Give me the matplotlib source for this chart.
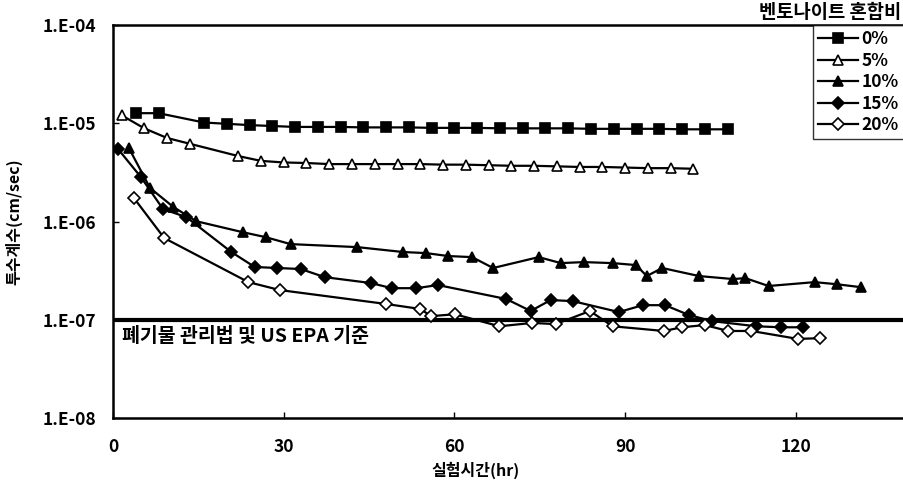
import matplotlib
matplotlib.use('Agg')
import matplotlib.pyplot as plt
from matplotlib.ticker import FixedLocator, NullLocator

plt.rcParams['font.family'] = ['Noto Sans CJK KR', 'DejaVu Sans']

# 벤토나이트 혼합비별 투수계수 (cm/sec) vs 실험시간 (hr)
hr_0 = [4, 8, 16, 20, 24, 28, 32, 36, 40, 44, 48, 52, 56, 60, 64, 68, 72,
        76, 80, 84, 88, 92, 96, 100, 104, 108]
k_0 = [1.27e-5, 1.27e-5, 1.02e-5, 9.9e-6, 9.6e-6, 9.4e-6, 9.2e-6, 9.2e-6,
       9.2e-6, 9.1e-6, 9.1e-6, 9.1e-6, 9.0e-6, 9.0e-6, 9.0e-6, 8.9e-6,
       8.9e-6, 8.9e-6, 8.9e-6, 8.8e-6, 8.8e-6, 8.8e-6, 8.8e-6, 8.7e-6,
       8.7e-6, 8.7e-6]

hr_5 = [1.5, 5.5, 9.5, 13.5, 22, 26, 30, 34, 38, 42, 46, 50, 54, 58, 62,
        66, 70, 74, 78, 82, 86, 90, 94, 98, 102]
k_5 = [1.21e-5, 8.9e-6, 7.1e-6, 6.2e-6, 4.65e-6, 4.15e-6, 4.0e-6, 3.95e-6,
       3.85e-6, 3.85e-6, 3.85e-6, 3.85e-6, 3.85e-6, 3.8e-6, 3.8e-6, 3.75e-6,
       3.7e-6, 3.7e-6, 3.65e-6, 3.6e-6, 3.6e-6, 3.55e-6, 3.5e-6, 3.5e-6,
       3.45e-6]

hr_10 = [2.8, 6.5, 10.6, 14.6, 22.8, 26.8, 31.2, 42.9, 51, 55, 58.9, 63.1,
         66.8, 74.8, 78.7, 82.7, 87.8, 91.9, 93.8, 96.5, 103, 109, 111.1,
         115.2, 123.3, 127.3, 131.4]
k_10 = [5.6e-6, 2.2e-6, 1.41e-6, 1.01e-6, 7.8e-7, 6.95e-7, 5.9e-7, 5.5e-7,
        4.9e-7, 4.78e-7, 4.46e-7, 4.35e-7, 3.37e-7, 4.35e-7, 3.78e-7, 3.87e-7,
        3.78e-7, 3.61e-7, 2.79e-7, 3.37e-7, 2.79e-7, 2.6e-7, 2.66e-7, 2.21e-7,
        2.42e-7, 2.3e-7, 2.15e-7]

hr_15 = [0.9, 4.9, 8.8, 12.9, 20.8, 24.9, 28.9, 33, 37.2, 45.3, 49, 53.3,
         57.1, 69.1, 73.4, 76.9, 80.8, 88.9, 93.1, 97, 101.2, 105.3, 113,
         117.3, 121.3]
k_15 = [5.47e-6, 2.84e-6, 1.34e-6, 1.11e-6, 4.9e-7, 3.45e-7, 3.37e-7, 3.29e-7,
        2.72e-7, 2.37e-7, 2.1e-7, 2.1e-7, 2.26e-7, 1.63e-7, 1.23e-7, 1.59e-7,
        1.55e-7, 1.2e-7, 1.41e-7, 1.41e-7, 1.12e-7, 9.7e-8, 8.6e-8, 8.4e-8,
        8.4e-8]

hr_20 = [3.7, 9, 23.8, 29.3, 48, 54, 55.9, 60.1, 67.9, 73.7, 77.8, 83.8,
         87.8, 96.8, 100, 104, 108.1, 112.2, 120.3, 124.3]
k_20 = [1.73e-6, 6.8e-7, 2.42e-7, 2.01e-7, 1.45e-7, 1.29e-7, 1.09e-7, 1.14e-7,
        8.6e-8, 9.3e-8, 9.05e-8, 1.23e-7, 8.6e-8, 7.7e-8, 8.4e-8, 8.85e-8,
        7.7e-8, 7.7e-8, 6.4e-8, 6.5e-8]

labels = ['0%', '5%', '10%', '15%', '20%']
y_ticks = [1e-8, 1e-7, 1e-6, 1e-5, 1e-4]
y_ticklabels = ['1.E-08', '1.E-07', '1.E-06', '1.E-05', '1.E-04']
x_ticks = [0, 30, 60, 90, 120]
limit = 1e-7

fig = plt.figure(figsize=(9.04, 4.93), dpi=100)
ax = fig.add_axes([0.125, 0.152, 0.875, 0.797])

ax.axhline(limit, color='black', lw=3, zorder=1)

series = [
    (hr_0, k_0, 's', 'black'),
    (hr_5, k_5, '^', 'white'),
    (hr_10, k_10, '^', 'black'),
    (hr_15, k_15, 'D', 'black'),
    (hr_20, k_20, 'D', 'white'),
]
for (x, y, m, fc), lab in zip(series, labels):
    ms = 7 if m != 'D' else 6
    ax.plot(x, y, color='black', lw=1.6, marker=m, markersize=ms,
            markerfacecolor=fc, markeredgecolor='black', markeredgewidth=1.2,
            label=lab, zorder=3)

ax.set_yscale('log')
ax.set_ylim(1e-8, 1e-4)
ax.set_xlim(0, 139)
ax.yaxis.set_major_locator(FixedLocator(y_ticks))
ax.yaxis.set_minor_locator(NullLocator())
ax.set_yticklabels(y_ticklabels)
ax.set_xticks(x_ticks)
ax.tick_params(axis='both', direction='in', length=4, width=1,
               labelsize=12.5)
ax.tick_params(axis='y', pad=12)
ax.tick_params(axis='x', pad=14)
for lab in ax.get_xticklabels() + ax.get_yticklabels():
    lab.set_fontweight('bold')

for s in ['left', 'top', 'bottom']:
    ax.spines[s].set_linewidth(1.8)
ax.spines['right'].set_visible(False)

ax.text(1.5, 6.7e-8, '폐기물 관리법 및 US EPA 기준', fontsize=14,
        fontweight='bold', va='center', ha='left')

ax.set_xlabel('실험시간(hr)', fontsize=11.5, fontweight='bold')
ax.xaxis.set_label_coords(0.458, -0.11)
ax.set_ylabel('투수계수(cm/sec)', fontsize=11.5, fontweight='bold')
ax.yaxis.set_label_coords(-0.115, 0.5)

leg = ax.legend(loc='upper right', bbox_to_anchor=(1.0, 1.0), frameon=True,
                fancybox=False, edgecolor='black', fontsize=12.5,
                handlelength=2.3, handletextpad=0.2, labelspacing=0.2,
                borderpad=0.3, borderaxespad=0.0)
leg.get_frame().set_linewidth(1.0)
for t in leg.get_texts():
    t.set_fontweight('bold')

fig.text(0.997, 0.975, '벤토나이트 혼합비', fontsize=13.5, fontweight='bold',
         ha='right', va='center')

fig.savefig('out.png', dpi=100)
